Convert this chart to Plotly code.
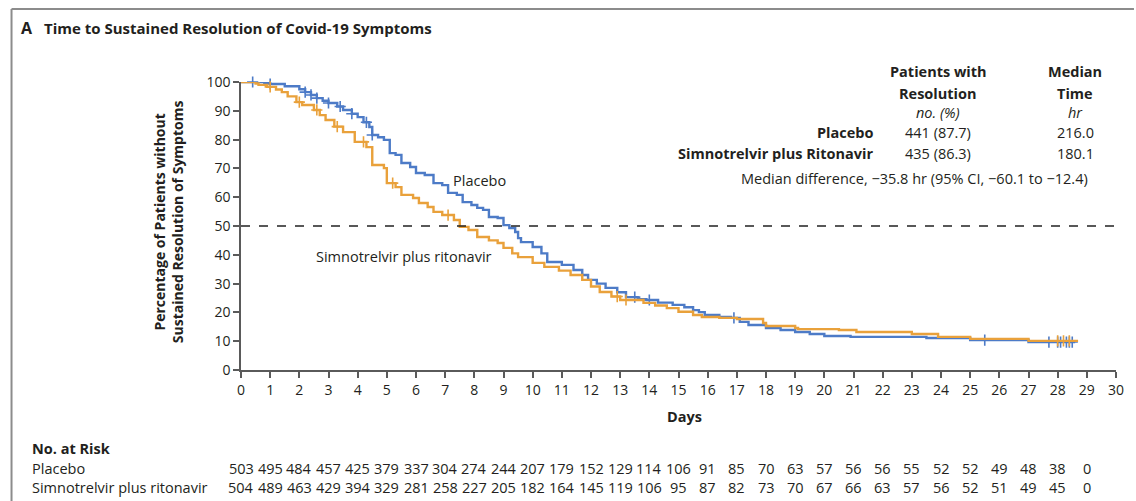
import numpy as np
import plotly.graph_objects as go

# Kaplan-Meier step estimates (days, % without sustained resolution)
placebo_t = [0, 0.8, 1.0, 1.5, 2.0, 2.2, 2.4, 2.6, 2.8, 3.0, 3.3, 3.5, 3.8, 4.0, 4.2, 4.4, 4.5,
             4.7, 4.9, 5.1, 5.3, 5.5, 5.8, 6.0, 6.3, 6.6, 6.9, 7.1, 7.4, 7.6, 7.9, 8.1, 8.3,
             8.5, 8.8, 9.0, 9.2, 9.4, 9.5, 9.6, 10.0, 10.3, 10.5, 11.0, 11.4, 11.7, 11.9, 12.2,
             12.5, 12.9, 13.2, 13.6, 13.9, 14.3, 14.8, 15.2, 15.5, 15.7, 15.9, 16.4, 16.8, 17.1,
             17.4, 18.0, 18.5, 19.0, 19.5, 20.0, 20.9, 23.5, 25.0, 27.0, 28.6]
placebo_s = [100, 99.6, 99.3, 98.5, 97.5, 96.5, 95.5, 94.4, 93.5, 92.7, 91.5, 90.3, 89.0, 87.8,
             86.0, 84.4, 81.6, 80.8, 79.9, 75.3, 74.7, 71.9, 70.5, 68.4, 67.7, 64.9, 64.2, 61.5,
             60.8, 58.3, 57.3, 56.3, 55.6, 53.1, 52.8, 50.3, 49.3, 47.9, 45.8, 44.4, 42.7, 40.5,
             37.5, 36.5, 34.7, 33.0, 31.3, 30.0, 28.5, 27.0, 25.3, 24.6, 24.3, 23.4, 22.6, 21.8,
             20.8, 20.1, 19.1, 18.4, 18.1, 16.7, 15.6, 14.6, 13.9, 13.2, 12.5, 11.8, 11.5, 11.1,
             10.4, 9.7, 9.7]
simno_t = [0, 0.5, 0.6, 0.9, 1.2, 1.4, 1.6, 1.9, 2.1, 2.5, 2.7, 2.9, 3.2, 3.5, 3.9, 4.3, 4.5,
           4.9, 5.0, 5.3, 5.5, 5.9, 6.1, 6.4, 6.6, 6.9, 7.3, 7.5, 7.8, 8.1, 8.5, 8.8, 9.0, 9.3,
           9.5, 10.0, 10.4, 10.9, 11.3, 11.7, 12.0, 12.3, 12.7, 13.0, 13.8, 14.2, 14.6, 15.0,
           15.5, 15.8, 16.4, 17.0, 17.9, 18.0, 19.0, 19.1, 20.5, 21.1, 23.0, 23.9, 25.0, 27.0, 28.7]
simno_s = [100, 99.5, 99.0, 98.3, 97.4, 96.5, 95.0, 93.0, 92.0, 90.3, 88.5, 86.8, 84.5, 82.6,
           79.2, 77.4, 71.2, 70.1, 64.9, 63.5, 60.8, 59.7, 58.0, 56.6, 54.9, 53.8, 52.1, 49.7,
           48.6, 46.2, 45.0, 44.1, 42.4, 40.5, 39.2, 37.2, 35.8, 34.5, 33.0, 31.3, 29.0, 27.1,
           25.5, 24.3, 23.3, 22.4, 21.5, 20.2, 19.1, 18.4, 18.1, 17.7, 16.3, 15.3, 14.6, 14.2,
           13.9, 13.2, 12.5, 11.5, 10.8, 10.1, 10.1]

# Censoring times (days)
placebo_censor = [0.4, 1.0, 2.2, 2.4, 2.6, 3.0, 3.4, 3.8, 4.3, 4.5, 13.5, 14.0, 16.9, 25.5,
                  27.7, 28.0, 28.1, 28.3, 28.4, 28.5]
simno_censor = [1.0, 2.0, 2.6, 3.3, 4.2, 5.2, 7.1, 12.9, 13.2, 28.0, 28.2, 28.4]

# Number at risk
risk_days = list(range(0, 30))
placebo_risk = [503, 495, 484, 457, 425, 379, 337, 304, 274, 244, 207, 179, 152, 129, 114,
                106, 91, 85, 70, 63, 57, 56, 56, 55, 52, 52, 49, 48, 38, 0]
simno_risk = [504, 489, 463, 429, 394, 329, 281, 258, 227, 205, 182, 164, 145, 119, 106,
              95, 87, 82, 73, 70, 67, 66, 63, 57, 56, 52, 51, 49, 45, 0]

x_ticks = list(range(0, 31))
y_ticks = list(range(0, 101, 10))

BLUE = "#4d7bc7"
ORANGE = "#e9a13b"
TEXT = "#231f20"
AXIS = "#5a5a5a"
FONT = "Open Sans"
BODY = 14.5

W, H = 1136, 501
L, R, T, B = 241, 1118, 82, 370  # plot area in pixels


def step_at(ts, ss, x):
    i = np.searchsorted(np.asarray(ts), x, side="right") - 1
    return np.asarray(ss)[i]


def px(x):
    return (x - L) / (R - L)


def py(y):
    return (B - y) / (B - T)


fig = go.Figure()

for ts, ss, cens, col in [(placebo_t, placebo_s, placebo_censor, BLUE),
                          (simno_t, simno_s, simno_censor, ORANGE)]:
    fig.add_trace(go.Scatter(x=ts, y=ss, mode="lines", line=dict(color=col, width=2.4, shape="hv"),
                             cliponaxis=False, hoverinfo="skip", showlegend=False))
    cy = [float(step_at(ts, ss, c)) for c in cens]
    fig.add_trace(go.Scatter(x=cens, y=cy, mode="markers",
                             marker=dict(symbol="cross-thin-open", size=8, color=col,
                                         line=dict(color=col, width=1.6)),
                             cliponaxis=False, hoverinfo="skip", showlegend=False))

ann = []


def text(x, y, s, size=BODY, bold=False, italic=False, anchor="center", color=TEXT):
    if bold:
        s = f"<b>{s}</b>"
    if italic:
        s = f"<i>{s}</i>"
    ann.append(dict(x=px(x), y=py(y), xref="paper", yref="paper", text=s, showarrow=False,
                    xanchor=anchor, yanchor="middle",
                    font=dict(family=FONT, size=size, color=color)))


# Panel title
text(18, 28, "A", size=16, bold=True, anchor="left")
text(42, 28, "Time to Sustained Resolution of Covid-19 Symptoms", size=15, bold=True, anchor="left")

# Summary table
text(940, 72, "Patients with", bold=True)
text(940, 93, "Resolution", bold=True)
text(1077, 72, "Median", bold=True)
text(1077, 93, "Time", bold=True)
text(940, 113, "no. (%)", italic=True)
text(1077, 113, "hr", italic=True)
text(876, 132, "Placebo", bold=True, anchor="right")
text(876, 153, "Simnotrelvir plus Ritonavir", bold=True, anchor="right")
text(940, 132, "441 (87.7)")
text(940, 153, "435 (86.3)")
text(1077, 132, "216.0")
text(1077, 153, "180.1")
text(916, 178, "Median difference, \u221235.8 hr (95% CI, \u221260.1 to \u221212.4)")

# Curve labels
text(480, 180, "Placebo")
text(404, 256, "Simnotrelvir plus ritonavir")

# Axis titles
text(686, 416, "Days", bold=True)
ann.append(dict(x=px(168), y=py(222), xref="paper", yref="paper",
                text="<b>Percentage of Patients without<br>Sustained Resolution of Symptoms</b>",
                showarrow=False, textangle=-90, xanchor="center", yanchor="middle",
                font=dict(family=FONT, size=14, color=TEXT)))

# Number at risk table
text(30, 448, "No. at Risk", bold=True, anchor="left")
text(30, 468, "Placebo", anchor="left")
text(30, 487, "Simnotrelvir plus ritonavir", anchor="left")
for d, a, b in zip(risk_days, placebo_risk, simno_risk):
    for v, yy in [(a, 468), (b, 487)]:
        ann.append(dict(x=d, y=py(yy), xref="x", yref="paper", text=str(v), showarrow=False,
                        xanchor="center", yanchor="middle",
                        font=dict(family=FONT, size=BODY, color=TEXT)))

shapes = [
    dict(type="line", xref="x", yref="y", x0=0, x1=30, y0=50, y1=50,
         line=dict(color="#222", width=1.4, dash="dash")),
    # outer frame
    dict(type="line", xref="paper", yref="paper", x0=px(11), x1=px(11), y0=py(9), y1=py(501),
         line=dict(color="#8c8c8c", width=2)),
    dict(type="line", xref="paper", yref="paper", x0=px(11), x1=px(1136), y0=py(9), y1=py(9),
         line=dict(color="#8c8c8c", width=2)),
]

fig.update_layout(
    width=W, height=H,
    margin=dict(l=L, r=W - R, t=T, b=H - B),
    plot_bgcolor="white", paper_bgcolor="white",
    annotations=ann, shapes=shapes,
    xaxis=dict(range=[0, 30], tickvals=x_ticks, ticktext=[str(v) for v in x_ticks],
               showgrid=False, zeroline=False, showline=True, linecolor=AXIS, linewidth=1.5,
               ticks="outside", ticklen=6, tickwidth=1.5, tickcolor=AXIS,
               tickfont=dict(family=FONT, size=14, color=TEXT)),
    yaxis=dict(range=[0, 100], tickvals=y_ticks, ticktext=[str(v) for v in y_ticks],
               showgrid=False, zeroline=False, showline=True, linecolor=AXIS, linewidth=1.5,
               ticks="outside", ticklen=6, tickwidth=1.5, tickcolor=AXIS,
               tickfont=dict(family=FONT, size=14, color=TEXT)),
)

fig.write_html("out.html")
